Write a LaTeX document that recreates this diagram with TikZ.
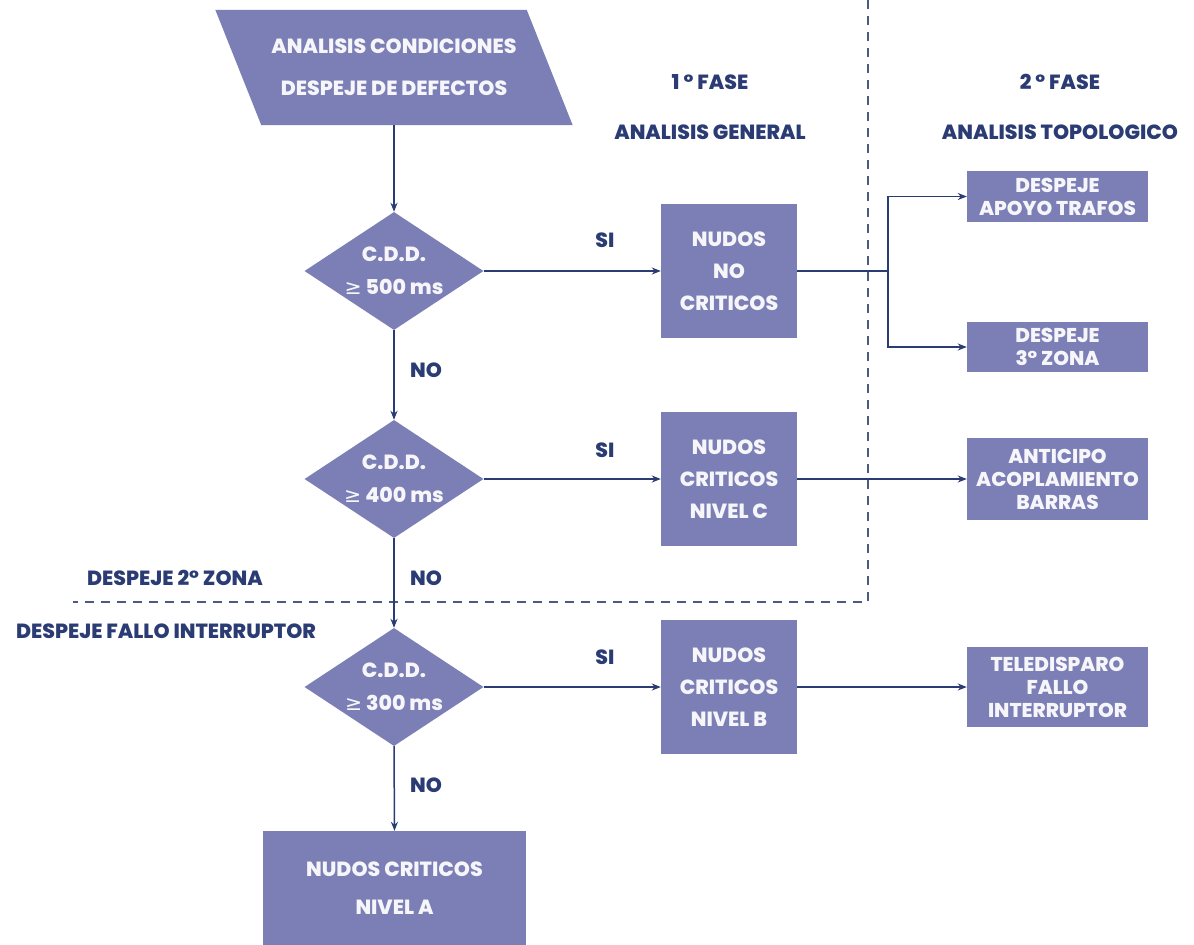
\documentclass[tikz,border=0pt]{standalone}
\usepackage{fontspec}
\setmainfont{Poppins}[BoldFont={Poppins ExtraBold}]
\newfontfamily\symfont{DejaVu Sans}
\usetikzlibrary{positioning, arrows.meta, shapes.geometric, backgrounds}
\definecolor{cddfill}{HTML}{7B7FB5}
\definecolor{cddnavy}{HTML}{2B3B73}
\definecolor{cddwhite}{HTML}{F6F6FA}
\tikzset{
  flowbox/.style={
    fill=cddfill,
    text=cddwhite,
    align=center,
    inner sep=0pt,
    font=\fontsize{20.5}{32}\selectfont\bfseries,
  },
  % middle column and right column
  midbox/.style={flowbox, minimum width=136pt, minimum height=134pt},
  sidebox/.style={flowbox, minimum width=181pt, font=\fontsize{20}{23}\selectfont\bfseries},
  cddtest/.style={diamond, aspect=1.5, flowbox, inner sep=-8pt, minimum width=179pt, minimum height=118pt,
    font=\fontsize{20.5}{33}\selectfont\bfseries},
  cddlabel/.style={text=cddnavy, inner sep=0pt, font=\fontsize{20.5}{20}\selectfont\bfseries},
  cddline/.style={line width=1.5pt, draw=cddnavy},
  cddarr/.style={-{Stealth[length=9pt, width=7pt]}, cddline},
  phaseline/.style={dash pattern=on 9pt off 7pt, line width=1.3pt, draw=cddnavy!85},
}
\newcommand{\geqsym}{{\symfont\mdseries ≥}}

\begin{document}
\begin{tikzpicture}[x=1pt, y=-1pt]
  \useasboundingbox (0,0) rectangle (1194,945);

  \node[flowbox, fill=none, minimum width=311pt, minimum height=115pt,
        font=\fontsize{20.5}{42}\selectfont\bfseries] (start) at (394,67.5)
        {ANALISIS CONDICIONES\\DESPEJE DE DEFECTOS};
  \begin{scope}[on background layer]
    \fill[cddfill] ([xshift=-23pt]start.north west) -- ([xshift=-23pt]start.north east)
      -- ([xshift=23pt]start.south east) -- ([xshift=23pt]start.south west) -- cycle;
  \end{scope}

  \node[cddtest] (t500) at (394,271) {C.D.D.\\\geqsym{} 500 ms};
  \node[cddtest] (t400) at (394,479) {C.D.D.\\\geqsym{} 400 ms};
  \node[cddtest] (t300) at (394,687) {C.D.D.\\\geqsym{} 300 ms};
  \node[flowbox, minimum width=263pt, minimum height=114pt,
        font=\fontsize{20.5}{38}\selectfont\bfseries] (nivA) at (394.5,888)
        {NUDOS CRITICOS\\NIVEL A};

  \node[midbox] (noCrit) at (729,271) {NUDOS\\NO\\CRITICOS};
  \node[midbox] (nivC) at (729,479) {NUDOS\\CRITICOS\\NIVEL C};
  \node[midbox] (nivB) at (729,687) {NUDOS\\CRITICOS\\NIVEL B};

  \node[sidebox, minimum height=51pt] (trafos) at (1057.5,196.5) {DESPEJE\\APOYO TRAFOS};
  \node[sidebox, minimum height=50pt] (zona3) at (1057.5,347) {DESPEJE\\3° ZONA};
  \node[sidebox, minimum height=82pt] (barras) at (1057.5,479) {ANTICIPO\\ACOPLAMIENTO\\BARRAS};
  \node[sidebox, minimum height=80pt] (teledisp) at (1057.5,687) {TELEDISPARO\\FALLO\\INTERRUPTOR};

  % phase headings and zone labels
  \node[cddlabel] (fase1) at (710,82) {1 ° FASE};
  \node[cddlabel] (general) at (710,132) {ANALISIS GENERAL};
  \node[cddlabel] (fase2) at (1060,82) {2 ° FASE};
  \node[cddlabel] (topol) at (1060,132) {ANALISIS TOPOLOGICO};
  \node[cddlabel] (zona2) at (175,578) {DESPEJE 2° ZONA};
  \node[cddlabel] (fallo) at (166,631) {DESPEJE FALLO INTERRUPTOR};
  \foreach \n/\y in {si500/240, si400/450, si300/657} {
    \node[cddlabel] (\n) at (605,\y) {SI};
  }
  \foreach \n/\y in {no500/370, no400/578, no300/785} {
    \node[cddlabel] (\n) at (426,\y) {NO};
  }

  \coordinate (dashTop) at (868,0);
  \coordinate (dashCorner) at (868,602);
  \coordinate (dashEnd) at (73,602);
  \draw[phaseline] (dashTop) -- (dashCorner) -- (dashEnd);

  \foreach \a/\b in {start/t500, t500/t400, t400/t300, t300/nivA} {
    \draw[cddarr] (\a.south) -- (\b.north);
  }
  \foreach \a/\b in {t500/noCrit, t400/nivC, t300/nivB, nivC/barras, nivB/teledisp} {
    \draw[cddarr] (\a.east) -- (\b.west);
  }
  \coordinate (split) at (888,271);
  \draw[cddline] (noCrit.east) -- (split);
  \draw[cddarr] (split) |- (trafos.west);
  \draw[cddarr] (split) |- (zona3.west);
\end{tikzpicture}
\end{document}
